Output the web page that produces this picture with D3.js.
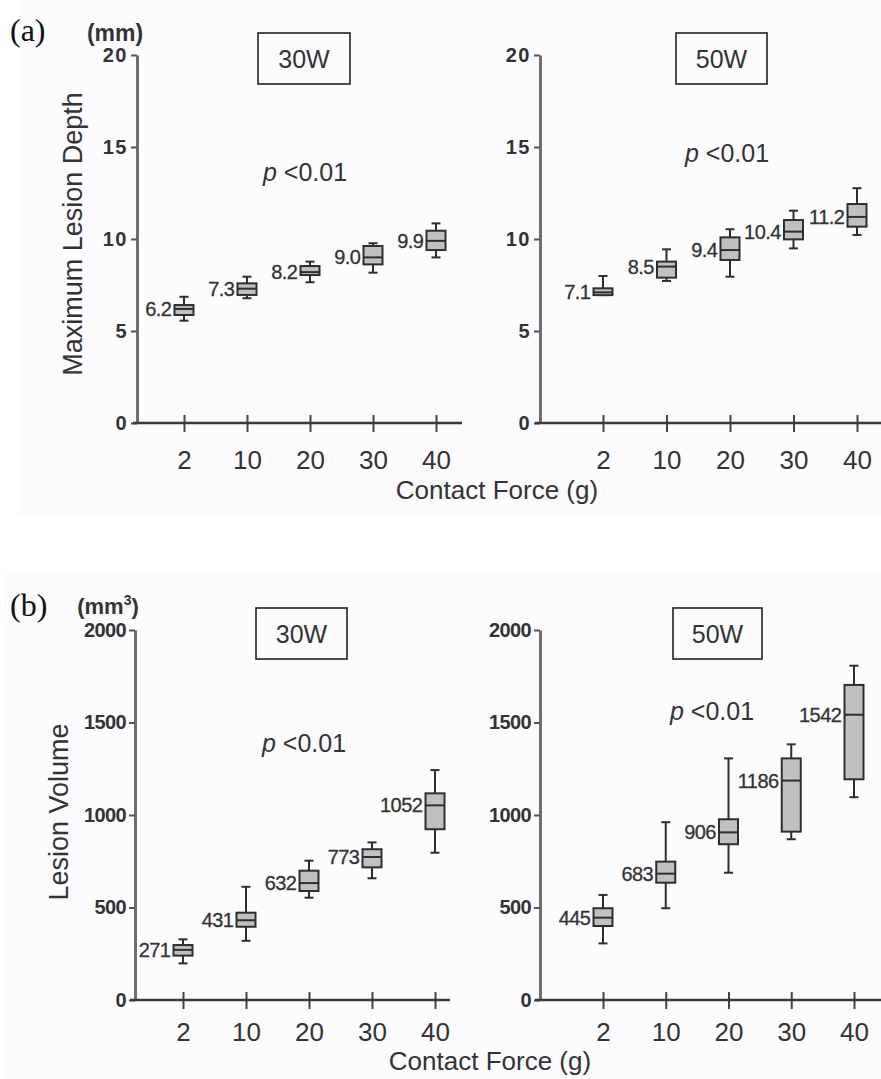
<!DOCTYPE html>
<html>
<head>
<meta charset="utf-8">
<script src="https://cdn.jsdelivr.net/npm/d3@7"></script>
<style>
  html, body { margin: 0; padding: 0; background: #ffffff; }
  svg { display: block; font-family: "Liberation Sans", Arial, Helvetica, sans-serif; }
</style>
</head>
<body>
<svg id="fig" width="881" height="1079"></svg>
<script>
// ---- data -----------------------------------------------------------
const forces = ["2", "10", "20", "30", "40"];
const depthTicks = [0, 5, 10, 15, 20];
const volumeTicks = [0, 500, 1000, 1500, 2000];

// Maximum lesion depth (mm) at 30 W
const depth30Median = [6.2, 7.3, 8.2, 9.0, 9.9];
const depth30Q1     = [5.87, 6.96, 8.04, 8.62, 9.40];
const depth30Q3     = [6.41, 7.59, 8.53, 9.62, 10.45];
const depth30Min    = [5.56, 6.78, 7.65, 8.17, 9.00];
const depth30Max    = [6.86, 7.95, 8.77, 9.77, 10.85];

// Maximum lesion depth (mm) at 50 W
const depth50Median = [7.1, 8.5, 9.4, 10.4, 11.2];
const depth50Q1     = [6.95, 7.90, 8.86, 9.98, 10.67];
const depth50Q3     = [7.32, 8.77, 10.09, 11.03, 11.90];
const depth50Min    = [6.95, 7.72, 7.95, 9.49, 10.22];
const depth50Max    = [7.99, 9.44, 10.53, 11.54, 12.76];

// Lesion volume (mm3) at 30 W
const volume30Median = [271, 431, 632, 773, 1052];
const volume30Q1     = [240, 396, 589, 717, 923];
const volume30Q3     = [297, 472, 699, 815, 1117];
const volume30Min    = [198, 320, 553, 658, 796];
const volume30Max    = [328, 612, 753, 852, 1243];

// Lesion volume (mm3) at 50 W
const volume50Median = [445, 683, 906, 1186, 1542];
const volume50Q1     = [400, 634, 842, 910, 1193];
const volume50Q3     = [496, 748, 977, 1306, 1703];
const volume50Min    = [306, 496, 688, 869, 1096];
const volume50Max    = [568, 961, 1306, 1382, 1807];

// ---- helpers --------------------------------------------------------
const TEXT = "#333333";
const SANS = "'Liberation Sans', Arial, Helvetica, sans-serif";
const svg = d3.select("#fig");

// faint paper tone behind each figure half
svg.append("rect").attr("x", 18).attr("y", 0).attr("width", 863).attr("height", 516).attr("fill", "#fcfbfe");
svg.append("rect").attr("x", 5).attr("y", 571).attr("width", 876).attr("height", 508).attr("fill", "#fcfbfe");

function rows(med, q1, q3, lo, hi) {
  return forces.map((f, i) => ({ force: f, median: med[i], q1: q1[i], q3: q3[i], min: lo[i], max: hi[i] }));
}

function drawPanel(p) {
  const g = svg.append("g");
  const y = d3.scaleLinear().domain([0, p.ticks[p.ticks.length - 1]]).range([p.yBottom, p.yTop]);
  const x = d3.scalePoint().domain(forces).range([p.xFirst, p.xLast]);

  // y axis
  const ya = g.append("g")
    .attr("transform", `translate(${p.axisX},0)`)
    .call(d3.axisLeft(y).tickValues(p.ticks).tickFormat(d3.format("d"))
      .tickSize(6).tickSizeOuter(0).tickPadding(3));
  ya.select(".domain").attr("stroke", "#6e6e6e").attr("stroke-width", 3);
  ya.selectAll(".tick line").attr("stroke", "#555").attr("stroke-width", 2);
  ya.selectAll(".tick text")
    .attr("fill", TEXT)
    .attr("font-size", p.yTickSize)
    .attr("font-weight", "bold")
    .attr("font-family", SANS)
    .attr("letter-spacing", p.yTickSpacing);

  // x axis with ticks crossing the baseline
  const xa = g.append("g")
    .attr("transform", `translate(0,${p.yBottom})`)
    .call(d3.axisBottom(x).tickSize(9).tickPadding(0));
  xa.select(".domain").remove();
  xa.selectAll(".tick line").attr("y1", -8).attr("y2", 9).attr("stroke", "#444").attr("stroke-width", 2);
  xa.selectAll(".tick text")
    .attr("y", p.xLabelBase - p.yBottom)
    .attr("dy", 0)
    .attr("fill", TEXT)
    .attr("font-size", 26)
    .attr("font-family", SANS);
  g.append("line")
    .attr("x1", p.axisStart).attr("x2", p.axisEnd)
    .attr("y1", p.yBottom).attr("y2", p.yBottom)
    .attr("stroke", "#3a3a3a").attr("stroke-width", 2.5);

  // box plots
  const half = 9.5, cap = 4.5;
  const boxes = g.selectAll("g.box").data(p.rows).join("g").attr("class", "box");
  boxes.append("line")
    .attr("x1", d => x(d.force)).attr("x2", d => x(d.force))
    .attr("y1", d => y(d.max)).attr("y2", d => y(d.min))
    .attr("stroke", "#2e2e2e").attr("stroke-width", 2);
  boxes.append("line")
    .attr("x1", d => x(d.force) - cap).attr("x2", d => x(d.force) + cap)
    .attr("y1", d => y(d.max)).attr("y2", d => y(d.max))
    .attr("stroke", "#2e2e2e").attr("stroke-width", 2);
  boxes.append("line")
    .attr("x1", d => x(d.force) - cap).attr("x2", d => x(d.force) + cap)
    .attr("y1", d => y(d.min)).attr("y2", d => y(d.min))
    .attr("stroke", "#2e2e2e").attr("stroke-width", 2);
  boxes.append("rect")
    .attr("x", d => x(d.force) - half).attr("width", half * 2)
    .attr("y", d => y(d.q3)).attr("height", d => y(d.q1) - y(d.q3))
    .attr("fill", "#c0c0c3").attr("stroke", "#2e2e2e").attr("stroke-width", 2);
  boxes.append("line")
    .attr("x1", d => x(d.force) - half).attr("x2", d => x(d.force) + half)
    .attr("y1", d => y(d.median)).attr("y2", d => y(d.median))
    .attr("stroke", "#2e2e2e").attr("stroke-width", 2);
  boxes.append("text")
    .attr("x", d => x(d.force) - half - 3)
    .attr("y", d => y(d.median) + 7)
    .attr("text-anchor", "end")
    .attr("font-size", 20)
    .attr("fill", "#333")
    .attr("stroke", "#333").attr("stroke-width", 0.3)
    .attr("letter-spacing", -0.5)
    .text(d => p.fmt(d.median));

  // power label in a framed box
  g.append("rect")
    .attr("x", p.title[0]).attr("y", p.title[1]).attr("width", p.title[2]).attr("height", p.title[3])
    .attr("fill", "none").attr("stroke", "#222").attr("stroke-width", 1.6);
  g.append("text")
    .attr("x", p.title[0] + p.title[2] / 2).attr("y", p.title[1] + p.title[3] / 2 + 9)
    .attr("text-anchor", "middle").attr("font-size", 25).attr("fill", TEXT)
    .text(p.power);

  // significance note
  const pt = g.append("text")
    .attr("x", p.pPos[0]).attr("y", p.pPos[1])
    .attr("font-size", 25).attr("fill", TEXT);
  pt.append("tspan").attr("font-style", "italic").text("p");
  pt.append("tspan").text(" <0.01");
}

const fmt1 = d3.format(".1f");
const fmt0 = d3.format("d");

drawPanel({
  ticks: depthTicks, yTop: 55, yBottom: 423, axisX: 137,
  xFirst: 184, xLast: 436, axisStart: 133, axisEnd: 462, xLabelBase: 469,
  yTickSize: 20, yTickSpacing: 1.5,
  rows: rows(depth30Median, depth30Q1, depth30Q3, depth30Min, depth30Max),
  fmt: fmt1, power: "30W", title: [258, 33, 92, 51], pPos: [263, 181]
});
drawPanel({
  ticks: depthTicks, yTop: 55, yBottom: 423, axisX: 540,
  xFirst: 603, xLast: 857, axisStart: 535, axisEnd: 881, xLabelBase: 469,
  yTickSize: 20, yTickSpacing: 1.5,
  rows: rows(depth50Median, depth50Q1, depth50Q3, depth50Min, depth50Max),
  fmt: fmt1, power: "50W", title: [676, 33, 91, 51], pPos: [685, 162]
});
drawPanel({
  ticks: volumeTicks, yTop: 630, yBottom: 1000, axisX: 135,
  xFirst: 183, xLast: 435, axisStart: 130, axisEnd: 450, xLabelBase: 1041,
  yTickSize: 20, yTickSpacing: -0.6,
  rows: rows(volume30Median, volume30Q1, volume30Q3, volume30Min, volume30Max),
  fmt: fmt0, power: "30W", title: [256, 608, 91, 51], pPos: [262, 752]
});
drawPanel({
  ticks: volumeTicks, yTop: 630, yBottom: 1000, axisX: 540,
  xFirst: 603, xLast: 854, axisStart: 535, axisEnd: 881, xLabelBase: 1041,
  yTickSize: 20, yTickSpacing: -0.6,
  rows: rows(volume50Median, volume50Q1, volume50Q3, volume50Min, volume50Max),
  fmt: fmt0, power: "50W", title: [673, 608, 89, 51], pPos: [670, 720]
});

// figure letters and units
svg.append("text").attr("x", 10).attr("y", 41)
  .attr("font-family", "'Liberation Serif', 'Times New Roman', serif").attr("font-size", 32).attr("fill", "#111")
  .text("(a)");
svg.append("text").attr("x", 10).attr("y", 616)
  .attr("font-family", "'Liberation Serif', 'Times New Roman', serif").attr("font-size", 32).attr("fill", "#111")
  .text("(b)");
svg.append("text").attr("x", 115).attr("y", 41).attr("text-anchor", "middle")
  .attr("font-size", 23).attr("font-weight", "bold").attr("fill", TEXT)
  .text("(mm)");
const unitB = svg.append("text").attr("x", 108).attr("y", 614).attr("text-anchor", "middle")
  .attr("font-size", 22).attr("font-weight", "bold").attr("fill", TEXT);
unitB.append("tspan").text("(mm");
unitB.append("tspan").attr("font-size", 14).attr("dy", -9).text("3");
unitB.append("tspan").attr("dy", 9).text(")");

// axis titles
svg.append("text").attr("transform", "translate(82,234) rotate(-90)")
  .attr("text-anchor", "middle").attr("font-size", 27).attr("fill", TEXT)
  .text("Maximum Lesion Depth");
svg.append("text").attr("transform", "translate(68,812) rotate(-90)")
  .attr("text-anchor", "middle").attr("font-size", 27).attr("fill", TEXT)
  .text("Lesion Volume");
svg.append("text").attr("x", 497).attr("y", 499).attr("text-anchor", "middle")
  .attr("font-size", 26).attr("fill", TEXT)
  .text("Contact Force (g)");
svg.append("text").attr("x", 490).attr("y", 1070).attr("text-anchor", "middle")
  .attr("font-size", 26).attr("fill", TEXT)
  .text("Contact Force (g)");
</script>
</body>
</html>
